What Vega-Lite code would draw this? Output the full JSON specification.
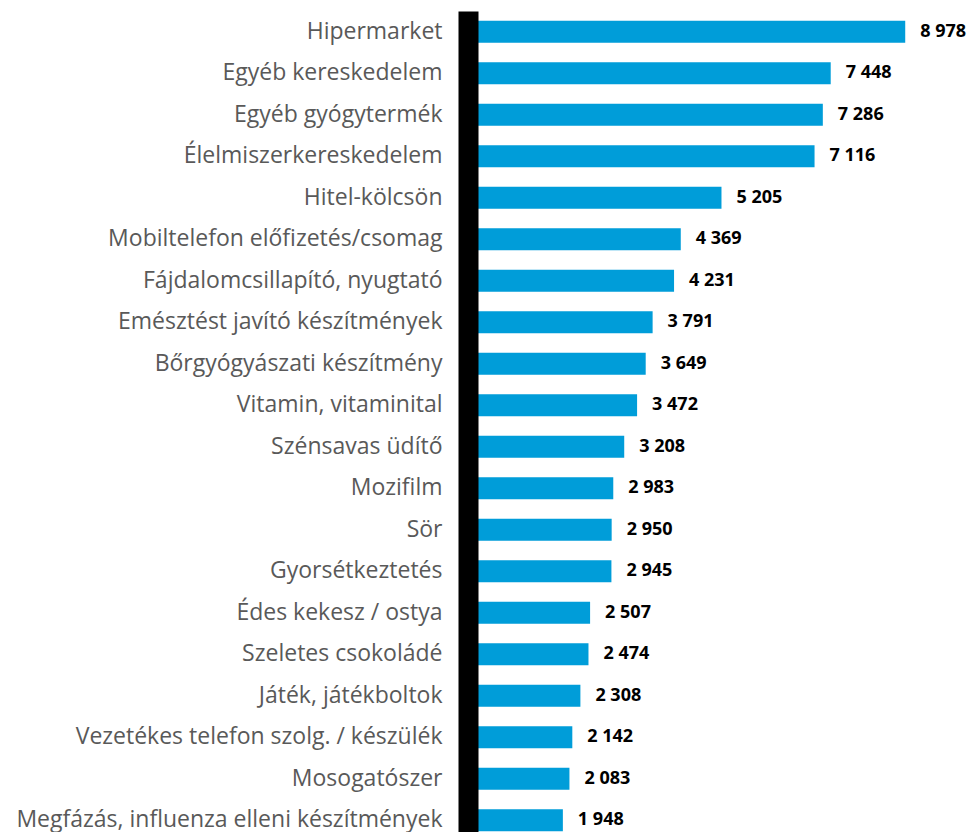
{
  "$schema": "https://vega.github.io/schema/vega-lite/v6.json",
  "autosize": {"type": "none"},
  "padding": {"left": 468, "top": 11, "right": 16, "bottom": 0},
  "width": 487,
  "height": 830,
  "background": "white",
  "config": {
    "view": {"stroke": null},
    "locale": {"number": {"decimal": ",", "thousands": " ", "grouping": [3], "currency": ["", ""]}}
  },
  "data": {"values": [
    {"cat": "Hipermarket", "v": 8978},
    {"cat": "Egyéb kereskedelem", "v": 7448},
    {"cat": "Egyéb gyógytermék", "v": 7286},
    {"cat": "Élelmiszerkereskedelem", "v": 7116},
    {"cat": "Hitel-kölcsön", "v": 5205},
    {"cat": "Mobiltelefon előfizetés/csomag", "v": 4369},
    {"cat": "Fájdalomcsillapító, nyugtató", "v": 4231},
    {"cat": "Emésztést javító készítmények", "v": 3791},
    {"cat": "Bőrgyógyászati készítmény", "v": 3649},
    {"cat": "Vitamin, vitaminital", "v": 3472},
    {"cat": "Szénsavas üdítő", "v": 3208},
    {"cat": "Mozifilm", "v": 2983},
    {"cat": "Sör", "v": 2950},
    {"cat": "Gyorsétkeztetés", "v": 2945},
    {"cat": "Édes kekesz / ostya", "v": 2507},
    {"cat": "Szeletes csokoládé", "v": 2474},
    {"cat": "Játék, játékboltok", "v": 2308},
    {"cat": "Vezetékes telefon szolg. / készülék", "v": 2142},
    {"cat": "Mosogatószer", "v": 2083},
    {"cat": "Megfázás, influenza elleni készítmények", "v": 1948}
  ]},
  "encoding": {
    "y": {
      "field": "cat", "type": "nominal", "sort": null,
      "scale": {"paddingInner": 0.47, "paddingOuter": 0.235},
      "axis": {
        "title": null, "ticks": false, "domainColor": "black", "domainWidth": 20,
        "zindex": 1,
        "labelPadding": 26, "labelFont": "Open Sans", "labelFontSize": 23,
        "labelColor": "#595959", "labelLimit": 500
      }
    },
    "x": {
      "field": "v", "type": "quantitative",
      "scale": {"domain": [0, 10000], "nice": false},
      "axis": null
    }
  },
  "layer": [
    {"mark": {"type": "bar", "color": "#009DD9", "size": 22}},
    {
      "mark": {"type": "text", "align": "left", "baseline": "middle", "dx": 15, "font": "Open Sans", "fontSize": 18, "fontWeight": "bold", "color": "black"},
      "encoding": {"text": {"field": "v", "type": "quantitative", "format": ",d"}}
    }
  ]
}
